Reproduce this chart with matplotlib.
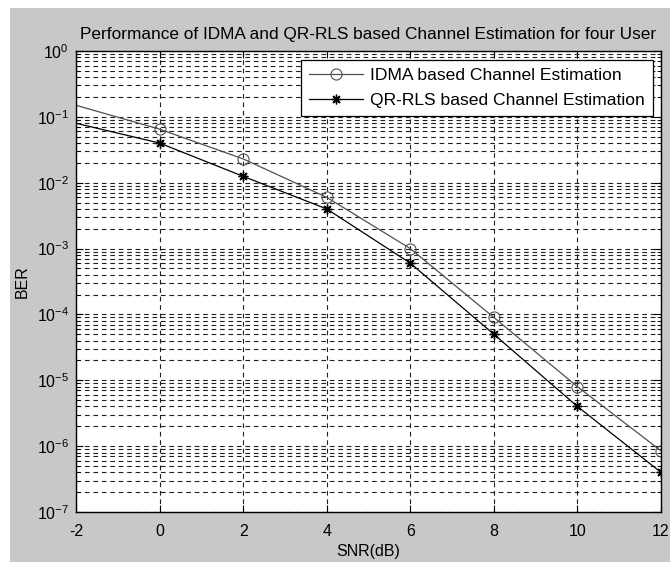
import matplotlib
matplotlib.use("Agg")
import matplotlib.pyplot as plt
from matplotlib.patches import Rectangle
from matplotlib.ticker import LogLocator, FixedLocator, FuncFormatter, NullFormatter
import numpy as np

plt.rcParams['font.family'] = ['Liberation Sans', 'DejaVu Sans']
plt.rcParams['mathtext.fontset'] = 'custom'
plt.rcParams['mathtext.rm'] = 'Liberation Sans'
plt.rcParams['mathtext.it'] = 'Liberation Sans'
plt.rcParams['axes.unicode_minus'] = False

snr = [-2, 0, 2, 4, 6, 8, 10, 12]
ber_idma = [1.5e-1, 6.5e-2, 2.3e-2, 6.0e-3, 1.0e-3, 9.0e-5, 8.0e-6, 8.5e-7]
ber_qrrls = [8.0e-2, 4.0e-2, 1.25e-2, 4.0e-3, 6.0e-4, 5.0e-5, 4.0e-6, 4.0e-7]
xticks = [-2, 0, 2, 4, 6, 8, 10, 12]
title = "Performance of IDMA and QR-RLS based Channel Estimation for four User"

fig = plt.figure(figsize=(6.7, 5.62), dpi=100, facecolor='white')
fig.patches.append(Rectangle((10/670, 0), 1, 1 - 8/562, transform=fig.transFigure,
                             facecolor='#c8c8c8', edgecolor='none', zorder=-10))
ax = fig.add_axes([76/670, 1 - 512/562, (661-76)/670, (512-51)/562])
ax.set_facecolor('white')

ax.plot(snr, ber_idma, color='#505050', lw=0.9, marker='o', ms=8, mfc='none',
        mec='#505050', mew=0.8, markevery=slice(1, None),
        label='IDMA based Channel Estimation', clip_on=True)
ax.plot(snr, ber_qrrls, color='black', lw=0.9, marker=(8, 2, 0), ms=7, mfc='black',
        mec='black', mew=1.0, markevery=slice(1, None),
        label='QR-RLS based Channel Estimation', clip_on=True)

ax.set_yscale('log')
ax.set_xlim(-2, 12)
ax.set_ylim(1e-7, 1e0)
ax.xaxis.set_major_locator(FixedLocator(xticks))
ax.yaxis.set_major_locator(LogLocator(base=10, numticks=10))
ax.yaxis.set_minor_locator(LogLocator(base=10, subs=range(2, 10), numticks=20))

def yfmt(v, pos):
    e = int(round(np.log10(v)))
    return r'$\mathregular{10^{%d}}$' % e

ax.yaxis.set_major_formatter(FuncFormatter(yfmt))
ax.yaxis.set_minor_formatter(NullFormatter())
ax.tick_params(which='both', direction='in', top=True, right=True, labelsize=11.5)
ax.tick_params(axis='x', which='major', pad=9)
ax.tick_params(axis='y', which='major', pad=5)
ax.tick_params(which='major', length=5)
ax.tick_params(which='minor', length=3)
ax.grid(True, which='major', axis='both', linestyle=(0, (4.2, 3.4)), color='#202020', lw=0.8)
ax.grid(True, which='minor', axis='y', linestyle=(0, (4.2, 3.4)), color='#202020', lw=0.8)
for s in ax.spines.values():
    s.set_linewidth(1.0)

ax.set_xlabel('SNR(dB)', fontsize=11.5, labelpad=3)
ax.set_ylabel('BER', fontsize=11.5, labelpad=5)
ax.set_title(title, fontsize=12.4, pad=9)

leg = ax.legend(loc='upper right', fontsize=12.6, frameon=True, fancybox=False,
                edgecolor='black', framealpha=1, borderpad=0.45, labelspacing=0.55,
                handlelength=3.1, handletextpad=0.4, borderaxespad=0,
                bbox_to_anchor=(0.986, 0.98))
leg.get_frame().set_linewidth(0.9)

fig.savefig('out.png', dpi=100, facecolor=fig.get_facecolor())
